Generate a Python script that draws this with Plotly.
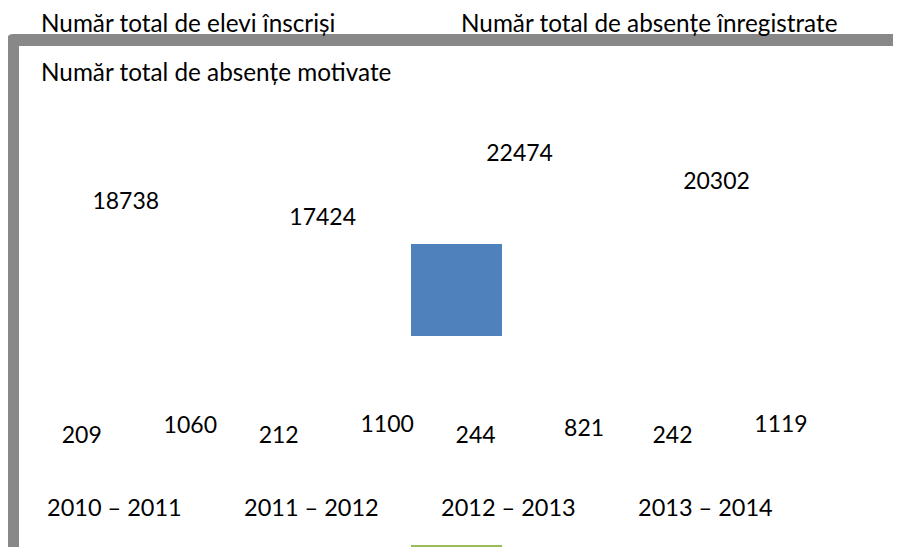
import plotly.graph_objects as go

# ---- data ----
categories = ["2010 – 2011", "2011 – 2012", "2012 – 2013", "2013 – 2014"]
series_names = [
    "Număr total de elevi înscriși",
    "Număr total de absențe înregistrate",
    "Număr total de absențe motivate",
]
elevi_inscrisi = [209, 212, 244, 242]
absente_inregistrate = [18738, 17424, 22474, 20302]
absente_motivate = [1060, 1100, 821, 1119]

# ---- layout geometry (window pixels) ----
PAGE_MARGIN = 8                          # default body margin of the html page
WIN_W, WIN_H = 901, 547
W, H = WIN_W - PAGE_MARGIN, WIN_H - PAGE_MARGIN
X0_PX, STEP_PX = 114.3, 196.9            # first category centre, category spacing
Y0_PX, K = 440.3, 0.012673               # pixel of value 0, pixels per unit
x0 = X0_PX - PAGE_MARGIN
y0 = Y0_PX - PAGE_MARGIN
x_range = [-x0 / STEP_PX, (W - x0) / STEP_PX]
y_range = [(y0 - H) / K, y0 / K]
series_offsets_px = [-32.5, 11.5, 76.0]

FONT_NUM = dict(family="Lato, Carlito, sans-serif", size=23, color="#000000")
FONT_CAT = dict(family="Lato, Carlito, sans-serif", size=23.5, color="#000000")
FONT_LEG = dict(family="Lato, Carlito, sans-serif", size=24.3, color="#000000")


def px(x):
    return (x - PAGE_MARGIN) / W


def py(y):
    return 1 - (y - PAGE_MARGIN) / H


fig = go.Figure()

for name, vals, off in zip(series_names,
                           [elevi_inscrisi, absente_inregistrate, absente_motivate],
                           series_offsets_px):
    fig.add_trace(go.Scatter(
        x=[i + off / STEP_PX for i in range(len(categories))],
        y=vals,
        mode="text",
        text=[str(v) for v in vals],
        textposition="middle center",
        textfont=FONT_NUM,
        name=name,
        showlegend=False,
        hoverinfo="skip",
        cliponaxis=False,
    ))

annotations = []
# category labels
for i, c in enumerate(categories):
    annotations.append(dict(x=i, y=py(507), xref="x", yref="paper", text=c,
                            showarrow=False, xanchor="center", yanchor="middle",
                            font=FONT_CAT))
# legend texts
legend_pos = [(39, 22), (459, 22), (39, 72)]
for name, (lx, ly) in zip(series_names, legend_pos):
    annotations.append(dict(x=px(lx), y=py(ly), xref="paper", yref="paper", text=name,
                            showarrow=False, xanchor="left", yanchor="middle",
                            font=FONT_LEG))

shapes = []
# gray frame (top and left border, rounded outer corner)
frame_pts = [
    ("M", 7, 547), ("L", 7, 40), ("Q", 7, 34, 13, 34), ("L", 901, 34),
    ("L", 901, 46), ("L", 19, 46), ("L", 19, 547),
]
path = ""
for p in frame_pts:
    if p[0] == "Q":
        path += f"Q {px(p[1])},{py(p[2])} {px(p[3])},{py(p[4])} "
    else:
        path += f"{p[0]} {px(p[1])},{py(p[2])} "
path += "Z"
shapes.append(dict(type="path", path=path, xref="paper", yref="paper",
                   fillcolor="#888888", line=dict(width=0), layer="below"))
# blue swatch
shapes.append(dict(type="rect", xref="paper", yref="paper",
                   x0=px(411), x1=px(502), y0=py(336), y1=py(244),
                   fillcolor="#4F81BD", line=dict(width=0)))
# green swatch (cut off at bottom)
shapes.append(dict(type="rect", xref="paper", yref="paper",
                   x0=px(411), x1=px(502), y0=py(547), y1=py(545),
                   fillcolor="#9BBB59", line=dict(width=0)))

fig.update_layout(
    width=W, height=H,
    margin=dict(l=0, r=0, t=0, b=0),
    paper_bgcolor="white", plot_bgcolor="white",
    xaxis=dict(range=x_range, visible=False, fixedrange=True),
    yaxis=dict(range=y_range, visible=False, fixedrange=True),
    annotations=annotations,
    shapes=shapes,
    showlegend=False,
)

fig.write_html("out.html")
